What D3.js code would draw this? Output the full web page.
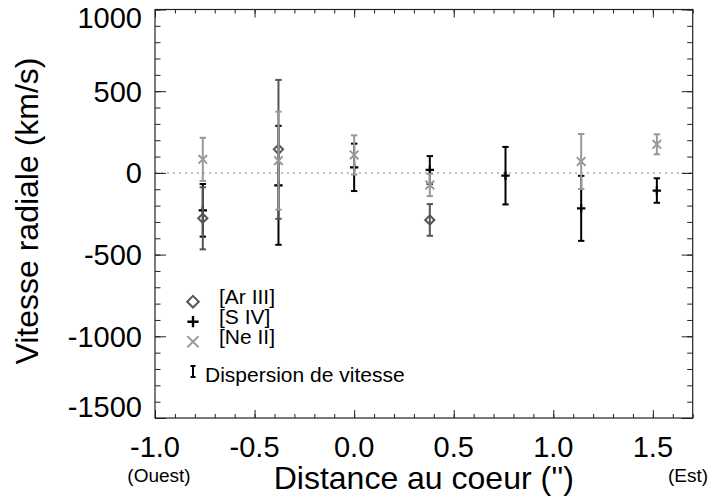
<!DOCTYPE html>
<html>
<head>
<meta charset="utf-8">
<script src="https://cdn.jsdelivr.net/npm/d3@7"></script>
<style>
  html, body { margin: 0; padding: 0; background: #fff; }
  svg { display: block; }
  text { font-family: "Liberation Sans", Arial, Helvetica, sans-serif; fill: #000; }
</style>
</head>
<body>
<svg id="chart" width="717" height="502"></svg>
<script>
// ---- data ----
const arIIIx   = [-0.76, -0.38, 0.38];
const arIIIv   = [-278, 144, -288];
const arIIIerr = [190, 425, 97];

const sIVx   = [-0.76, -0.38, 0.0, 0.38, 0.76, 1.14, 1.52];
const sIVv   = [-229, -76, 34, 18, -17, -217, -108];
const sIVerr = [161, 364, 145, 85, 176, 199, 75];

const neIIx   = [-0.76, -0.38, 0.0, 0.38, 1.14, 1.52];
const neIIv   = [83, 75, 110, -74, 70, 175];
const neIIerr = [132, 300, 120, 68, 168, 61];

const xTicks = [-1.0, -0.5, 0.0, 0.5, 1.0, 1.5];
const xTickLabels = ["-1.0", "-0.5", "0.0", "0.5", "1.0", "1.5"];
const yTicks = [-1500, -1000, -500, 0, 500, 1000];
const yTickLabels = ["-1500", "-1000", "-500", "0", "500", "1000"];
const legendLabels = ["[Ar III]", "[S IV]", "[Ne II]"];
const dispersionLabel = "Dispersion de vitesse";
const xTitle = "Distance au coeur ('')";
const yTitle = "Vitesse radiale (km/s)";
const westLabel = "(Ouest)";
const eastLabel = "(Est)";

// ---- layout ----
const svg = d3.select("#chart");
const L = 155, R = 692.7, T = 9.5, B = 418;
const x = d3.scaleLinear().domain([-1.0, 1.7]).range([L, R]);
const y = d3.scaleLinear().domain([-1500, 1000]).range([B, T]);

const axisColor = "#222";
const cAr = "#555555", cS = "#000000", cNe = "#999999";

// zero dotted line
svg.append("line")
  .attr("x1", L).attr("x2", R).attr("y1", y(0)).attr("y2", y(0))
  .attr("stroke", "#aaaaaa").attr("stroke-width", 1.5)
  .attr("stroke-dasharray", "2,4");

// ---- axes (ticks inward on all four sides) ----
const xMinor = d3.range(-10, 18).map(d => d / 10);
const yMinor = d3.range(-15, 11).map(d => d * 100);

function styleAxis(g) {
  g.select(".domain").remove();
  g.selectAll(".tick line").attr("stroke", axisColor).attr("stroke-width", 1);
  g.selectAll("text").remove();
}
// bottom
svg.append("g").attr("transform", `translate(0,${B})`)
  .call(d3.axisBottom(x).tickValues(xMinor).tickSizeInner(-4).tickSizeOuter(0)).call(styleAxis);
svg.append("g").attr("transform", `translate(0,${B})`)
  .call(d3.axisBottom(x).tickValues(xTicks).tickSizeInner(-8).tickSizeOuter(0)).call(styleAxis);
// top
svg.append("g").attr("transform", `translate(0,${T})`)
  .call(d3.axisTop(x).tickValues(xMinor).tickSizeInner(-4).tickSizeOuter(0)).call(styleAxis);
svg.append("g").attr("transform", `translate(0,${T})`)
  .call(d3.axisTop(x).tickValues(xTicks).tickSizeInner(-8).tickSizeOuter(0)).call(styleAxis);
// left
svg.append("g").attr("transform", `translate(${L},0)`)
  .call(d3.axisLeft(y).tickValues(yMinor).tickSizeInner(-5.5).tickSizeOuter(0)).call(styleAxis);
svg.append("g").attr("transform", `translate(${L},0)`)
  .call(d3.axisLeft(y).tickValues(yTicks).tickSizeInner(-11).tickSizeOuter(0)).call(styleAxis);
// right
svg.append("g").attr("transform", `translate(${R},0)`)
  .call(d3.axisRight(y).tickValues(yMinor).tickSizeInner(-5.5).tickSizeOuter(0)).call(styleAxis);
svg.append("g").attr("transform", `translate(${R},0)`)
  .call(d3.axisRight(y).tickValues(yTicks).tickSizeInner(-11).tickSizeOuter(0)).call(styleAxis);

// frame
svg.append("rect").attr("x", L).attr("y", T).attr("width", R - L).attr("height", B - T)
  .attr("fill", "none").attr("stroke", axisColor).attr("stroke-width", 1.2);

// tick labels
const tickFont = 29;
svg.append("g").selectAll("text").data(xTicks).join("text")
  .attr("x", d => x(d)).attr("y", 457)
  .attr("text-anchor", "middle").attr("font-size", tickFont)
  .text((d, i) => xTickLabels[i]);

svg.append("g").selectAll("text").data(yTicks).join("text")
  .attr("x", 142)
  .attr("y", d => {
    let c = y(d);
    if (d === 1000) c += 7.8;
    if (d === -1500) c -= 11;
    return c + 0.36 * tickFont;
  })
  .attr("text-anchor", "end").attr("font-size", tickFont)
  .text((d, i) => yTickLabels[i]);

// titles
svg.append("text").attr("x", (L + R) / 2).attr("y", 489)
  .attr("text-anchor", "middle").attr("font-size", 32).text(xTitle);
svg.append("text").attr("transform", "translate(38,211) rotate(-90)")
  .attr("text-anchor", "middle").attr("font-size", 32).text(yTitle);
svg.append("text").attr("x", 159).attr("y", 482)
  .attr("text-anchor", "middle").attr("font-size", 19).text(westLabel);
svg.append("text").attr("x", 688).attr("y", 482)
  .attr("text-anchor", "middle").attr("font-size", 19).text(eastLabel);

// ---- marker paths ----
function diamondPath(s) { return `M0,${-s}L${s},0L0,${s}L${-s},0Z`; }
function plusPath(s) { return `M${-s},0H${s}M0,${-s}V${s}`; }
function crossPath(s) { return `M${-s},${-s}L${s},${s}M${-s},${s}L${s},${-s}`; }

function drawSeries(xs, vs, es, color, markerPath, mSize, mWidth) {
  const g = svg.append("g");
  const data = xs.map((d, i) => ({ x: d, v: vs[i], e: es[i] }));
  const capW = 3.2;
  data.forEach(d => {
    const cx = x(d.x), y1 = y(d.v + d.e), y2 = y(d.v - d.e);
    g.append("line").attr("x1", cx).attr("x2", cx).attr("y1", y1).attr("y2", y2)
      .attr("stroke", color).attr("stroke-width", 2);
    [y1, y2].forEach(yy => g.append("line")
      .attr("x1", cx - capW).attr("x2", cx + capW).attr("y1", yy).attr("y2", yy)
      .attr("stroke", color).attr("stroke-width", 2));
  });
  g.selectAll("path.m").data(data).join("path").attr("class", "m")
    .attr("transform", d => `translate(${x(d.x)},${y(d.v)})`)
    .attr("d", markerPath(mSize))
    .attr("fill", "none").attr("stroke", color).attr("stroke-width", mWidth);
}

drawSeries(sIVx, sIVv, sIVerr, cS, plusPath, 4.2, 2.2);
drawSeries(arIIIx, arIIIv, arIIIerr, cAr, diamondPath, 4.6, 2);
drawSeries(neIIx, neIIv, neIIerr, cNe, crossPath, 4.3, 2);

// ---- legend ----
const legColors = [cAr, cS, cNe];
const legPaths = [diamondPath(5.8), plusPath(5.6), crossPath(5.6)];
const leg = svg.append("g");
legendLabels.forEach((t, i) => {
  const sy = 301.7 + i * 20;
  leg.append("path").attr("transform", `translate(193,${sy})`)
    .attr("d", legPaths[i]).attr("fill", "none")
    .attr("stroke", legColors[i]).attr("stroke-width", i === 1 ? 2.4 : 2);
  leg.append("text").attr("x", 219).attr("y", sy + 2.5)
    .attr("font-size", 21).text(t);
});
// dispersion symbol
leg.append("line").attr("x1", 193).attr("x2", 193).attr("y1", 366).attr("y2", 377)
  .attr("stroke", "#000").attr("stroke-width", 2);
[366, 377].forEach(yy => leg.append("line").attr("x1", 190.5).attr("x2", 195.5)
  .attr("y1", yy).attr("y2", yy).attr("stroke", "#000").attr("stroke-width", 2));
leg.append("text").attr("x", 205).attr("y", 382).attr("font-size", 21).text(dispersionLabel);
</script>
</body>
</html>
